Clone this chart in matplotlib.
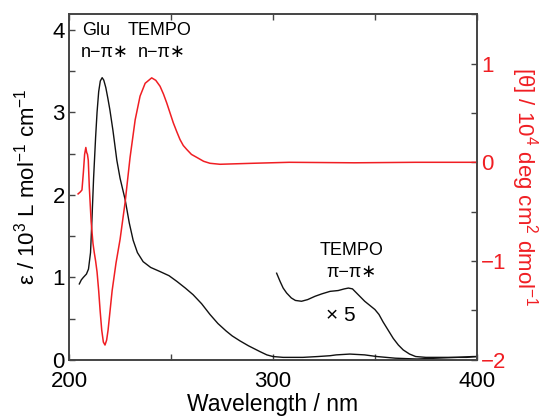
import numpy as np
import matplotlib
matplotlib.use('Agg')
import matplotlib.pyplot as plt
from matplotlib.ticker import MultipleLocator

plt.rcParams['font.family'] = ['Liberation Sans', 'DejaVu Sans']
plt.rcParams['mathtext.default'] = 'regular'

# absorption spectrum (left axis, 10^3 L mol-1 cm-1)
abs_wl = [205.0, 206.0, 207.0, 208.5, 209.5, 210.5, 211.2, 212.0, 213.0, 213.7,
          214.5, 215.3, 216.2, 217.0, 218.0, 219.0, 220.0, 221.5, 223.4, 225.0,
          227.5, 229.5, 231.4, 233.5, 236.3, 240.0, 244.6, 249.0, 252.9, 257.0,
          260.8, 265.0, 269.1, 273.0, 277.0, 280.0, 283.8, 288.0, 293.6, 297.0,
          300.0, 305.0, 314.7, 322.0, 328.0, 331.0, 337.7, 345.0, 351.0, 360.0,
          370.6, 380.0, 390.0, 398.0, 400.0]
abs_val = [0.92, 0.97, 1.00, 1.04, 1.10, 1.30, 1.70, 2.20, 2.70, 3.00,
           3.25, 3.38, 3.42, 3.39, 3.30, 3.17, 3.03, 2.78, 2.42, 2.20,
           1.94, 1.66, 1.45, 1.30, 1.19, 1.12, 1.07, 1.02, 0.95, 0.87,
           0.79, 0.68, 0.55, 0.44, 0.35, 0.29, 0.23, 0.17, 0.10, 0.06,
           0.04, 0.03, 0.03, 0.04, 0.05, 0.06, 0.07, 0.06, 0.04, 0.02,
           0.01, 0.02, 0.03, 0.04, 0.04]

# TEMPO pi-pi* region multiplied by 5
x5_wl = [301.8, 303.5, 305.0, 306.7, 309.0, 311.0, 314.0, 317.0, 320.6, 324.0,
         328.0, 332.0, 335.0, 337.0, 339.0, 341.0, 342.6, 345.0, 347.5, 350.0,
         352.0, 354.0, 356.5, 359.0, 361.5, 363.9, 367.0, 370.0, 375.0, 385.0,
         395.0, 400.0]
x5_val = [1.05, 0.95, 0.87, 0.81, 0.75, 0.72, 0.71, 0.73, 0.77, 0.80,
          0.83, 0.84, 0.86, 0.87, 0.86, 0.81, 0.77, 0.71, 0.66, 0.61,
          0.55, 0.46, 0.36, 0.26, 0.18, 0.12, 0.07, 0.04, 0.03, 0.03,
          0.03, 0.04]

# CD spectrum (right axis, 10^4 deg cm2 dmol-1)
cd_wl = [204.4, 205.5, 206.3, 207.0, 207.6, 208.2, 208.6, 209.0, 209.4, 209.9,
         210.8, 211.7, 212.3, 213.0, 213.7, 214.5, 215.2, 216.0, 216.8, 217.6,
         218.4, 219.1, 220.0, 221.1, 223.0, 225.0, 227.5, 229.9, 232.4, 234.8,
         237.3, 240.5, 242.5, 244.6, 246.3, 247.9, 249.5, 251.1, 252.8, 254.4,
         256.0, 257.7, 260.0, 262.6, 266.0, 269.1, 274.0, 290.0, 308.0, 340.0,
         370.0, 400.0]
cd_val = [-0.32, -0.30, -0.28, -0.10, 0.08, 0.15, 0.10, 0.08, 0.02, -0.25,
          -0.60, -0.82, -0.91, -1.00, -1.11, -1.30, -1.50, -1.70, -1.82, -1.85,
          -1.80, -1.70, -1.52, -1.30, -1.02, -0.78, -0.40, 0.05, 0.43, 0.67,
          0.80, 0.855, 0.83, 0.77, 0.69, 0.60, 0.50, 0.40, 0.31, 0.23,
          0.17, 0.13, 0.08, 0.05, 0.01, -0.01, -0.02, -0.01, 0.0, -0.005,
          0.0, 0.0]

red = '#f01e23'
spine_c = '#444444'

fig = plt.figure(figsize=(5.4, 4.16), dpi=100)
ax = fig.add_axes([0.128, 0.135, 0.755, 0.831])
ax2 = ax.twinx()

ax.plot(abs_wl, abs_val, color='#111111', lw=1.0)
ax.plot(x5_wl, x5_val, color='#111111', lw=1.0)
ax2.plot(cd_wl, cd_val, color=red, lw=1.1)

ax.set_xlim(200, 400)
ax.set_ylim(0, 4.19)
ax2.set_ylim(-2, 1.5)

ax.xaxis.set_major_locator(MultipleLocator(100))
ax.xaxis.set_minor_locator(MultipleLocator(50))
ax.yaxis.set_major_locator(MultipleLocator(1))
ax.yaxis.set_minor_locator(MultipleLocator(0.5))
ax2.yaxis.set_major_locator(MultipleLocator(1))
ax2.yaxis.set_minor_locator(MultipleLocator(0.5))

ax.tick_params(which='both', direction='in', top=True, right=False, color=spine_c,
               labelsize=16, pad=3, length=4, width=1)
ax.tick_params(axis='x', pad=8)
ax2.tick_params(which='both', direction='in', color=spine_c, labelcolor=red,
                labelsize=16, pad=3, length=4, width=1)
ax2.set_yticks([1, 0, -1, -2])
ax2.set_yticklabels(['1', '0', '\u22121', '\u22122'])

for a in (ax, ax2):
    for s in a.spines.values():
        s.set_color(spine_c)
        s.set_linewidth(1.2)

ax.set_xlabel('Wavelength / nm', fontsize=16.5, labelpad=1)
ax.set_ylabel('\u03b5 / 10$^{3}$ L mol$^{-1}$ cm$^{-1}$', fontsize=16, labelpad=9)
ax2.set_ylabel('[\u03b8] / 10$^{4}$ deg cm$^{2}$ dmol$^{-1}$', fontsize=16,
               color=red, rotation=270, labelpad=24)

ax.text(206.4, 3.99, 'Glu', fontsize=13, va='center', ha='left')
ax.text(228.9, 3.99, 'TEMPO', fontsize=13, va='center', ha='left')
ax.text(205.9, 3.72, 'n\u2212\u03c0\u2217', fontsize=13, va='center', ha='left')
ax.text(233.8, 3.72, 'n\u2212\u03c0\u2217', fontsize=13, va='center', ha='left')
ax.text(338.7, 1.33, 'TEMPO', fontsize=13, va='center', ha='center')
ax.text(338.7, 1.06, '\u03c0\u2212\u03c0\u2217', fontsize=13, va='center', ha='center')
ax.text(333.3, 0.54, '\u00d7 5', fontsize=15, va='center', ha='center')

fig.savefig('out.png', dpi=100)
